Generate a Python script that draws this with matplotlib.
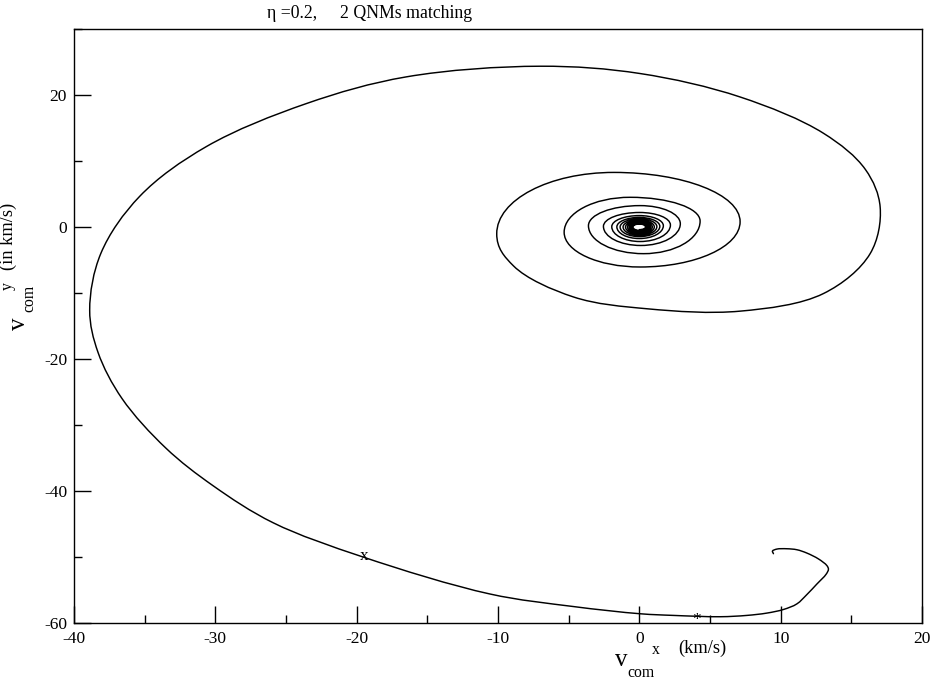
import numpy as np
import matplotlib
matplotlib.use("Agg")
import matplotlib.pyplot as plt
from matplotlib.path import Path
from matplotlib.patches import PathPatch
from matplotlib.ticker import MultipleLocator, FuncFormatter

# ---------------- data ----------------
# Trajectory from its start (small hook near (9.5,-49.5)) along the bottom,
# around the big outer loop and into the second turn.
traj_x = [9.49, 9.42, 9.73, 10.44, 11.15, 11.85, 12.68, 13.27, 13.38, 13.22,
          12.56, 11.85, 11.15, 10.20, 9.02, 7.61, 5.72, 2.41, 0.06,
          -4.69, -10.58, -19.55, -25.92, -30.16, -33.50, -36.60,
          -38.30, -38.89, -38.10, -35.35, -30.63, -23.56, -16.48, -7.02,
          0.06, 7.13, 13.03, 16.00, 17.04, 16.33, 13.03, 7.13, 0.60,
          -4.66, -8.90]
traj_y = [-49.5, -49.1, -48.8, -48.75, -48.9, -49.4, -50.3, -51.3, -51.85, -52.6,
          -54.1, -55.7, -57.1, -57.95, -58.5, -58.85, -59.05, -58.85, -58.6,
          -57.5, -55.6, -50.0, -44.8, -39.2, -33.5, -26.0,
          -19.0, -12.6, -4.0, 4.65, 12.19, 18.7, 22.75, 24.36,
          23.25, 19.7, 14.2, 8.7, 3.0, -4.04, -10.08, -12.75, -12.4,
          -10.6, -5.9]

# Inner spiral: extreme points of each turn (left -> top -> right -> bottom)
turn_left_x   = [-10.09, -5.32, -3.60, -2.54, -1.95, -1.59, -1.36, -1.15, -0.98, -0.84, -0.72, -0.62, -0.53, -0.45]
turn_left_y   = [-1.03, -0.80, 0.20, 0.10, 0.05, 0.02, 0.0, 0.0, 0.0, 0.0, 0.0, 0.0, 0.0, 0.0]
turn_top_x    = [-1.80, -0.65, 0.06, 0.02, 0.0, 0.0, 0.0, 0.0, 0.0, 0.0, 0.0, 0.0, 0.0, 0.0]
turn_top_y    = [8.27, 4.50, 3.24, 2.20, 1.73, 1.45, 1.25, 1.07, 0.92, 0.80, 0.70, 0.60, 0.52, 0.45]
turn_right_x  = [7.13, 4.30, 2.90, 2.20, 1.70, 1.45, 1.24, 1.06, 0.92, 0.80, 0.70, 0.60, 0.52, 0.44]
turn_right_y  = [0.80, 0.90, 0.50, 0.30, 0.20, 0.10, 0.05, 0.0, 0.0, 0.0, 0.0, 0.0, 0.0, 0.0]
turn_bottom_x = [0.06, 0.30, 0.10, 0.05, 0.0, 0.0, 0.0, 0.0, 0.0, 0.0, 0.0, 0.0, 0.0, 0.0]
turn_bottom_y = [-6.06, -4.04, -2.80, -2.20, -1.75, -1.45, -1.25, -1.07, -0.92, -0.80, -0.70, -0.60, -0.52, -0.40]

# Marked points on the trajectory
mark_x = [-19.45, 4.07]
mark_y = [-49.8, -58.82]
mark_sym = ["x", "*"]

x_ticks = [-40, -30, -20, -10, 0, 10, 20]
y_ticks = [-60, -40, -20, 0, 20]

# ---------------- figure ----------------
W, H = 935, 682
fig = plt.figure(figsize=(W / 100, H / 100), dpi=100)
ax = fig.add_axes([74 / W, 1 - 623 / H, (922 - 74) / W, (623 - 29) / H])
ax.set_xlim(-40, 20)
ax.set_ylim(-60, 30)

SERIF = "Liberation Serif"

# scale of one data unit in screen pixels (used only for spline spacing)
SX = (922 - 74) / 60.0
SY = (623 - 29) / 90.0

verts = []
codes = []
P = np.column_stack([traj_x, traj_y]).astype(float)
L1 = np.array([turn_left_x[0], turn_left_y[0]])
P = np.vstack([P, L1])
n = len(P)


def dist(a, b):
    return max(np.hypot((a[0] - b[0]) * SX, (a[1] - b[1]) * SY), 1e-6) ** 0.5


verts.append(P[0]); codes.append(Path.MOVETO)
for i in range(n - 1):
    p1, p2 = P[i], P[i + 1]
    p0 = P[i - 1] if i > 0 else p1 - (p2 - p1)
    d0, d1 = dist(p0, p1), dist(p1, p2)
    t1 = d1 * ((p1 - p0) / d0 - (p2 - p0) / (d0 + d1) + (p2 - p1) / d1)
    if i + 2 < n:
        p3 = P[i + 2]
        d2 = dist(p2, p3)
        t2 = d1 * ((p2 - p1) / d1 - (p3 - p1) / (d1 + d2) + (p3 - p2) / d2)
        c2 = p2 - t2 / 3.0
    else:  # arrive at the left extreme of the second turn with a vertical tangent
        c2 = np.array([p2[0], p2[1] - abs(p2[1] - p1[1]) * 0.45])
    c1 = p1 + t1 / 3.0
    verts += [c1, c2, p2]
    codes += [Path.CURVE4] * 3

seq = []
for k in range(len(turn_left_x)):
    seq.append(("v", turn_left_x[k], turn_left_y[k]))
    seq.append(("h", turn_top_x[k], turn_top_y[k]))
    seq.append(("v", turn_right_x[k], turn_right_y[k]))
    seq.append(("h", turn_bottom_x[k], turn_bottom_y[k]))
K = 0.5523
for (t0, px, py), (t1_, qx, qy) in zip(seq[:-1], seq[1:]):
    if t0 == "v":
        c1 = (px, py + K * (qy - py))
        c2 = (qx + K * (px - qx), qy)
    else:
        c1 = (px + K * (qx - px), py)
        c2 = (qx, qy + K * (py - qy))
    verts += [c1, c2, (qx, qy)]
    codes += [Path.CURVE4] * 3

path = Path(np.array(verts, dtype=float), codes)
ax.add_patch(PathPatch(path, facecolor="none", edgecolor="black", lw=1.05,
                       capstyle="round", joinstyle="round"))

# markers drawn as characters
xh = 3.9 / SY  # half x-height in data units
ax.text(mark_x[0], mark_y[0] - xh, mark_sym[0], ha="center", va="baseline",
        fontsize=12.5, family=SERIF)
ax.text(mark_x[1], mark_y[1] - 1.3, mark_sym[1], ha="center", va="baseline",
        fontsize=12.5, family=SERIF)

# axes styling
for s in ax.spines.values():
    s.set_linewidth(1.0)
ax.set_xticks(x_ticks)
ax.set_yticks(y_ticks)
ax.xaxis.set_major_formatter(FuncFormatter(lambda v, p: f"{int(round(v))}"))
ax.yaxis.set_major_formatter(FuncFormatter(lambda v, p: f"{int(round(v))}"))
ax.xaxis.set_minor_locator(MultipleLocator(5))
ax.yaxis.set_minor_locator(MultipleLocator(10))
ax.tick_params(which="both", direction="in", top=False, right=False, width=1.0)
ax.tick_params(which="major", length=12, pad=5)
ax.tick_params(which="minor", length=6)
ax.tick_params(axis="x", pad=6)
for lab in ax.get_xticklabels() + ax.get_yticklabels():
    lab.set_family(SERIF)
    lab.set_fontsize(12.5)


def ftext(px, py, s, size, rot=0, **kw):
    fig.text(px / W, 1 - py / H, s, fontsize=size, family=SERIF, rotation=rot,
             rotation_mode="anchor", ha="left", va="baseline", **kw)


# title
ftext(267, 18.5, "\u03b7 =0.2,", 12.8)
ftext(340, 18.5, "2 QNMs matching", 12.8)

# x label
ftext(615, 666, "v", 18)
ftext(627, 677, "com", 11.3)
ftext(652, 654, "x", 11.3)
ftext(678, 653, "(km/s)", 13.2)

# y label (rotated)
ftext(25, 330, "v", 18, rot=90)
ftext(33, 312, "com", 11.3, rot=90)
ftext(12, 290, "y", 11.3, rot=90)
ftext(13, 270, "(in km/s)", 13.2, rot=90)

fig.savefig("out.png", dpi=100)
